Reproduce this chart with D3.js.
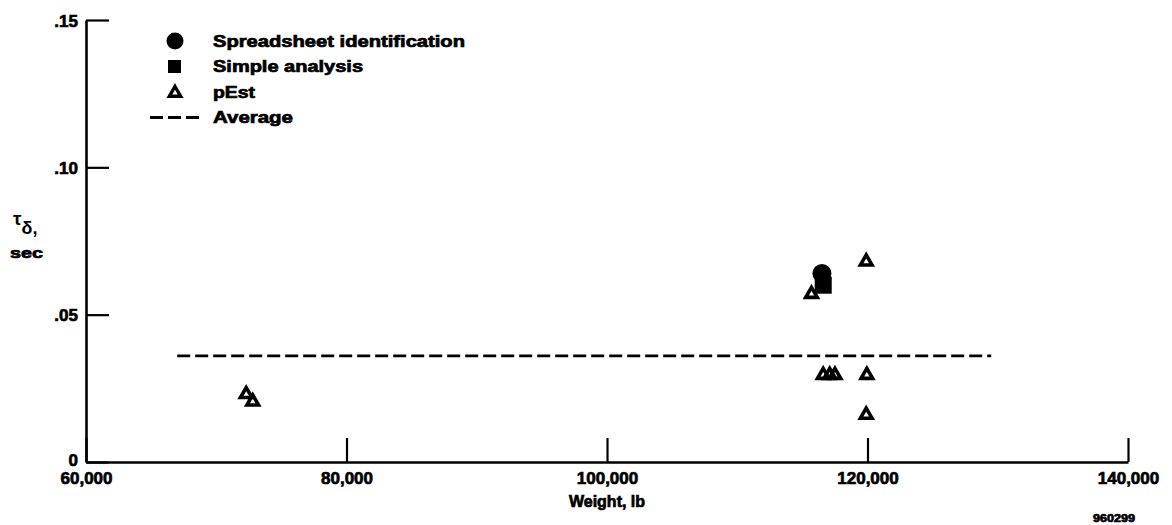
<!DOCTYPE html>
<html>
<head>
<meta charset="utf-8">
<script src="https://cdn.jsdelivr.net/npm/d3@7"></script>
<style>
  html, body { margin: 0; padding: 0; background: #fff; }
  svg { display: block; }
  text { font-family: "Liberation Sans", Arial, Helvetica, sans-serif; font-weight: bold; fill: #000; }
  .heavy { stroke: #000; stroke-width: 0.7px; }
</style>
</head>
<body>
<svg id="chart" width="1172" height="525"></svg>
<script>
// Time delay vs. weight
const xTicks = [60000, 80000, 100000, 120000, 140000];
const yTicks = [0, 0.05, 0.10, 0.15];

// Spreadsheet identification (filled circle)
const spreadsheetWeight = [116500];
const spreadsheetTau = [0.064];

// Simple analysis (filled square)
const simpleWeight = [116600];
const simpleTau = [0.060];

// pEst (open triangles)
const pestWeight = [72300, 72800, 115700, 119900, 116600, 117100, 117500, 119950, 119900];
const pestTau = [0.023, 0.0205, 0.057, 0.068, 0.0295, 0.0295, 0.0295, 0.0295, 0.016];

// Average line
const averageTau = 0.036;
const averageSpan = [67000, 129500];

const legendLabels = ["Spreadsheet identification", "Simple analysis", "pEst", "Average"];
const legendKinds = ["circle", "square", "triangle", "dash"];

// Rendered widths of the legend labels (wide heavy face)
const legendWidths = [252, 150, 42, 80];

const svg = d3.select("#chart");
const x = d3.scaleLinear().domain([60000, 140000]).range([86, 1128]);
const y = d3.scaleLinear().domain([0, 0.15]).range([462, 20]);

// Axes: ticks point inward, heavy strokes
const xAxis = d3.axisBottom(x)
  .tickValues(xTicks)
  .tickFormat(d3.format(","))
  .tickSizeInner(-24)
  .tickSizeOuter(0)
  .tickPadding(10);

const yAxis = d3.axisLeft(y)
  .tickValues(yTicks)
  .tickFormat(d => d === 0 ? "0" : d3.format(".2f")(d).replace(/^0/, ""))
  .tickSizeInner(-23)
  .tickSizeOuter(0)
  .tickPadding(8);

const gx = svg.append("g").attr("transform", `translate(0,${y(0)})`).call(xAxis);
const gy = svg.append("g").attr("transform", `translate(${x(60000)},0)`).call(yAxis);

[gx, gy].forEach(g => {
  g.select(".domain").attr("stroke", "#000").attr("stroke-width", 2.6);
  g.selectAll(".tick line").attr("stroke", "#000").attr("stroke-width", 2.2);
  g.selectAll(".tick text")
    .attr("class", "heavy")
    .attr("font-size", 17)
    .attr("font-family", "'Liberation Sans', Arial, sans-serif")
    .attr("font-weight", "bold")
    .attr("fill", "#000");
});
gy.selectAll(".tick text").attr("dy", "0.36em");
gy.selectAll(".tick").filter(d => d === 0).select("text").attr("dy", "0.2em");

// Axis titles
svg.append("text")
  .attr("class", "heavy")
  .attr("x", x(100000))
  .attr("y", 507)
  .attr("text-anchor", "middle")
  .attr("font-size", 16)
  .text("Weight, lb");

const yTitle = svg.append("text").attr("x", 13).attr("y", 225).attr("font-size", 19).attr("font-weight", "normal");
yTitle.append("tspan").text("τ");
yTitle.append("tspan").attr("dy", 9).attr("font-size", 18).text("δ");
yTitle.append("tspan").attr("font-size", 18).text(",");

svg.append("text")
  .attr("class", "heavy")
  .attr("x", 10)
  .attr("y", 258)
  .attr("font-size", 15)
  .attr("textLength", 33)
  .attr("lengthAdjust", "spacingAndGlyphs")
  .text("sec");

svg.append("text")
  .attr("class", "heavy")
  .attr("x", 1093)
  .attr("y", 522)
  .attr("font-size", 10.5)
  .attr("textLength", 42)
  .attr("lengthAdjust", "spacingAndGlyphs")
  .text("960299");

// Average dashed line
svg.append("line")
  .attr("x1", x(averageSpan[0]))
  .attr("x2", x(averageSpan[1]))
  .attr("y1", y(averageTau))
  .attr("y2", y(averageTau))
  .attr("stroke", "#000")
  .attr("stroke-width", 2.8)
  .attr("stroke-dasharray", "13,5");

// pEst triangles
const tri = d3.symbol().type(d3.symbolTriangle).size(58);
svg.append("g").selectAll("path")
  .data(pestWeight.map((w, i) => [w, pestTau[i]]))
  .join("path")
  .attr("d", tri)
  .attr("transform", d => `translate(${x(d[0])},${y(d[1])})`)
  .attr("fill", "none")
  .attr("stroke", "#000")
  .attr("stroke-width", 3.6)
  .attr("stroke-linejoin", "miter");

// Simple analysis squares
const sq = d3.symbol().type(d3.symbolSquare).size(290);
svg.append("g").selectAll("path")
  .data(simpleWeight.map((w, i) => [w, simpleTau[i]]))
  .join("path")
  .attr("d", sq)
  .attr("transform", d => `translate(${x(d[0])},${y(d[1])})`)
  .attr("fill", "#000");

// Spreadsheet identification circles
svg.append("g").selectAll("circle")
  .data(spreadsheetWeight.map((w, i) => [w, spreadsheetTau[i]]))
  .join("circle")
  .attr("cx", d => x(d[0]))
  .attr("cy", d => y(d[1]))
  .attr("r", 9.5)
  .attr("fill", "#000");

// Legend
const legend = svg.append("g");
const rowY = i => 41 + i * 25.5;
legendKinds.forEach((kind, i) => {
  const cy = rowY(i);
  if (kind === "circle") {
    legend.append("circle").attr("cx", 175).attr("cy", cy).attr("r", 8.5).attr("fill", "#000");
  } else if (kind === "square") {
    legend.append("rect").attr("x", 168).attr("y", cy - 6.5).attr("width", 13).attr("height", 13).attr("fill", "#000");
  } else if (kind === "triangle") {
    legend.append("path").attr("d", d3.symbol().type(d3.symbolTriangle).size(55)())
      .attr("transform", `translate(175,${cy + 1})`)
      .attr("fill", "none").attr("stroke", "#000").attr("stroke-width", 3.4);
  } else {
    legend.append("line").attr("x1", 150).attr("x2", 200).attr("y1", cy).attr("y2", cy)
      .attr("stroke", "#000").attr("stroke-width", 2.8).attr("stroke-dasharray", "13,5");
  }
  legend.append("text")
    .attr("class", "heavy")
    .attr("x", 213)
    .attr("y", cy)
    .attr("dy", "0.35em")
    .attr("font-size", 16)
    .attr("textLength", legendWidths[i])
    .attr("lengthAdjust", "spacingAndGlyphs")
    .text(legendLabels[i]);
});
</script>
</body>
</html>
